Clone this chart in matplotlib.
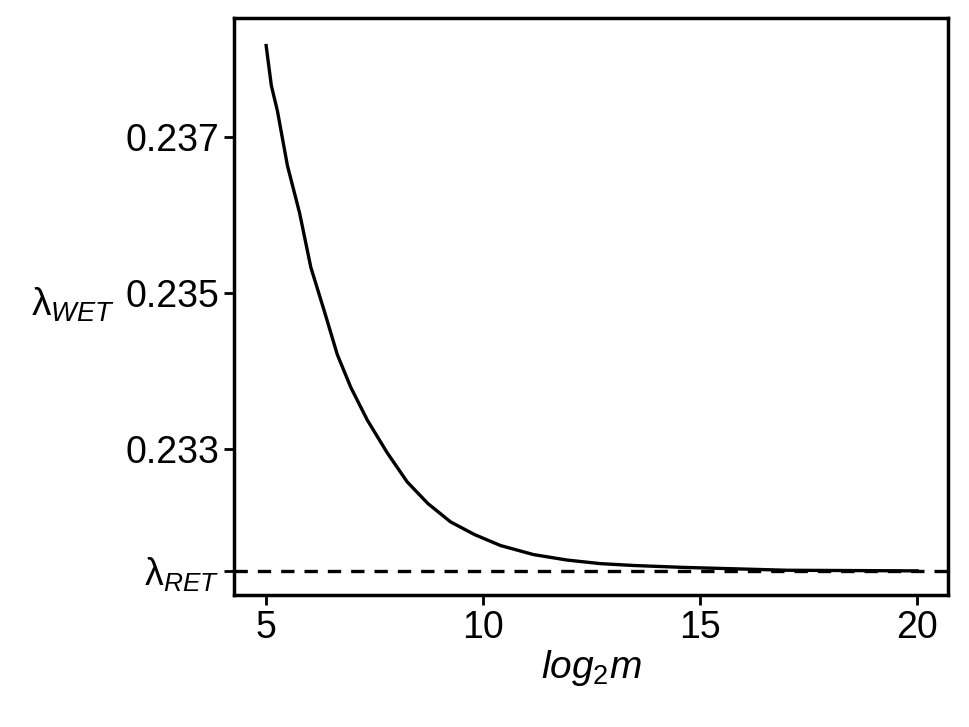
import matplotlib
matplotlib.use("Agg")
import matplotlib.pyplot as plt

# values
log2m = [5.0, 5.12, 5.26, 5.49, 5.77, 6.03, 6.34, 6.64, 6.95, 7.33, 7.79, 8.25, 8.73,
         9.25, 9.80, 10.4, 11.16, 11.93, 12.7, 13.47, 14.6, 17.0, 20.0]
lam_wet = [0.238173, 0.237660, 0.237335, 0.236635, 0.236028, 0.235329, 0.234769,
           0.234210, 0.233791, 0.233372, 0.232951, 0.232578, 0.232299, 0.232065,
           0.231903, 0.231762, 0.231646, 0.231576, 0.231530, 0.231506, 0.231482,
           0.231445, 0.231437]
lam_ret = 0.231436
yticks = [0.233, 0.235, 0.237]
xticks = [5, 10, 15, 20]

plt.rcParams['font.family'] = ['Liberation Sans', 'DejaVu Sans']
plt.rcParams['mathtext.fontset'] = 'custom'
plt.rcParams['mathtext.it'] = 'Liberation Sans:italic'
plt.rcParams['mathtext.rm'] = 'Liberation Sans'

fig = plt.figure(figsize=(9.69, 7.27), dpi=100)
ax = fig.add_axes([0.2415, 0.1816, 0.7368, 0.7936])

ax.plot(log2m, lam_wet, color='black', lw=2.4)
ax.axhline(lam_ret, color='black', lw=2.4, ls=(0, (4, 3)))

ax.set_xlim(4.26, 20.71)
ax.set_ylim(0.231128, 0.238526)
ax.set_xticks(xticks)
ax.set_xticklabels([str(t) for t in xticks])
ax.set_yticks([lam_ret] + yticks)
ax.set_yticklabels([r'λ$_{\mathit{RET}}$'] + ['%.3f' % t for t in yticks])
ax.tick_params(labelsize=27, width=2, length=7, color='black')
for s in ax.spines.values():
    s.set_linewidth(2.5)

ax.set_xlabel(r'$\mathit{log_2m}$', fontsize=28, labelpad=2)
ax.set_ylabel(r'λ$_{\mathit{WET}}$', fontsize=28, rotation=0)
ax.yaxis.set_label_coords(-0.225, 0.47)

fig.savefig('out.png', dpi=100)
